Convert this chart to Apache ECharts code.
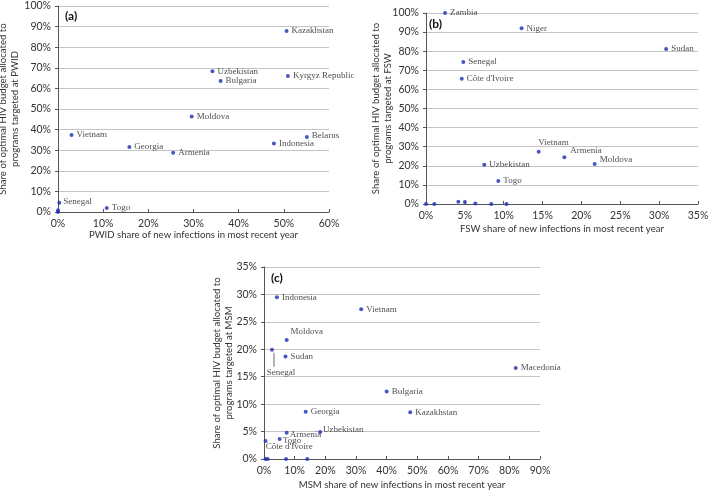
<!DOCTYPE html>
<html><head><meta charset="utf-8">
<script src="https://cdn.jsdelivr.net/npm/echarts@6/dist/echarts.min.js"></script>
<style>html,body{margin:0;padding:0;background:#fff}#c{width:709px;height:492px}</style>
</head><body><div id="c"></div>
<script>
// Panel (a): PWID
const namesA = ['Kazakhstan','Uzbekistan','Bulgaria','Kyrgyz Republic','Moldova','Vietnam','Georgia','Armenia','Indonesia','Belarus','Senegal','Togo','',''];
const xA = [50.6, 34.2, 36.0, 50.9, 29.6, 3.0, 15.8, 25.5, 47.8, 55.1, 0.3, 10.8, 0, 0];
const yA = [87.9, 68.3, 63.6, 66.0, 46.3, 37.4, 31.6, 28.8, 33.3, 36.4, 4.5, 1.9, 0, 0.8];
// Panel (b): FSW
const namesB = ['Zambia','Niger','Sudan','Senegal',"Côte d'Ivoire",'Vietnam','Armenia','Moldova','Uzbekistan','Togo','','','','','','',''];
const xB = [2.45, 12.3, 30.9, 4.8, 4.6, 14.5, 17.8, 21.7, 7.5, 9.3, 0, 1.07, 4.16, 5.0, 6.35, 8.4, 10.35];
const yB = [100, 92.0, 81.1, 74.3, 65.6, 27.4, 24.5, 21.0, 20.6, 12.1, 0, 0, 1.2, 1.0, 0.2, 0, 0];
// Panel (c): MSM
const namesC = ['Indonesia','Vietnam','Moldova','Senegal','Sudan','Macedonia','Bulgaria','Georgia','Kazakhstan','Uzbekistan','Armenia','Togo',"Côte d'Ivoire",'','','',''];
const xC = [4.2, 31.7, 7.4, 2.6, 7.0, 82.1, 40.0, 13.6, 47.7, 18.3, 7.4, 5.1, 0.5, 0.5, 1.2, 7.2, 14.1];
const yC = [29.5, 27.3, 21.7, 19.9, 18.7, 16.6, 12.3, 8.6, 8.5, 4.9, 4.8, 3.65, 3.3, 0, 0, 0, 0];
// Tick settings
const ticksA = {xMax: 60, xStep: 10, yMax: 100, yStep: 10};
const ticksB = {xMax: 35, xStep: 5, yMax: 100, yStep: 10};
const ticksC = {xMax: 90, xStep: 10, yMax: 35, yStep: 5};
const xNames = ['PWID share of new infections in most recent year','FSW share of new infections in most recent year','MSM share of new infections in most recent year'];
const yNames = ['Share of optimal HIV budget allocated to\nprograms targeted at PWID','Share of optimal HIV budget allocated to\nprograms targeted at FSW','Share of optimal HIV budget allocated to\nprograms targeted at MSM'];
const panelLabels = ['(a)','(b)','(c)'];

const AX_FONT = 'Lato, "Open Sans", sans-serif';
const LB_FONT = '"Liberation Serif", "DejaVu Serif", serif';
const DOT = '#1b2db0';

// label nudges (pixels) relative to default placement, per panel, by label text
const labelNudges = [
  {'Belarus': {dx:0, dy:-1}, 'Senegal': {dx:-1, dy:-1.5}},
  {'Vietnam': {dx:-5.5, dy:-9}, 'Armenia': {dx:1, dy:-6.3}, 'Moldova': {dx:0, dy:-4.7}},
  {'Moldova': {dx:-1.3, dy:-8.3}, 'Senegal': {dx:9, dy:0},
   "Côte d'Ivoire": {dx:-4.7, dy:6}, 'Armenia': {dx:-2, dy:1.7},
   'Uzbekistan': {dx:-2, dy:-2.7}, 'Togo': {dx:-1.7, dy:1.3}}
];

const grids = [
  {left: 58, top: 6, width: 271, height: 206, outerBoundsMode: 'none', containLabel: false},
  {left: 426, top: 13, width: 272, height: 191, outerBoundsMode: 'none', containLabel: false},
  {left: 264, top: 267, width: 276, height: 192, outerBoundsMode: 'none', containLabel: false}
];
const ticks = [ticksA, ticksB, ticksC];
const names = [namesA, namesB, namesC];
const xs = [xA, xB, xC];
const ys = [yA, yB, yC];
const yNameGap = [37, 32, 29];
const xNameGap = [18, 20, 21];

const xAxis = [], yAxis = [], series = [];
for (let i = 0; i < 3; i++) {
  xAxis.push({
    type: 'value', gridIndex: i, min: 0, max: ticks[i].xMax, interval: ticks[i].xStep,
    name: xNames[i], nameLocation: 'middle', nameGap: xNameGap[i], nameMoveOverlap: false,
    nameTextStyle: {fontFamily: AX_FONT, fontSize: 9.6, color: '#333'},
    axisLine: {show: true, onZero: false, lineStyle: {color: '#555', width: 1}},
    axisTick: {show: true, inside: true, length: 3, lineStyle: {color: '#555'}},
    axisLabel: {formatter: '{value}%', fontFamily: AX_FONT, fontSize: 10.5, color: '#333', margin: 6},
    splitLine: {show: false}
  });
  yAxis.push({
    type: 'value', gridIndex: i, min: 0, max: ticks[i].yMax, interval: ticks[i].yStep,
    name: yNames[i], nameLocation: 'middle', nameGap: yNameGap[i], nameRotate: 90, nameMoveOverlap: false,
    nameTextStyle: {fontFamily: AX_FONT, fontSize: 9.6, color: '#333', lineHeight: 12, align: 'center'},
    axisLine: {show: true, onZero: false, lineStyle: {color: '#555', width: 1}},
    axisTick: {show: true, length: 3, lineStyle: {color: '#555'}},
    axisLabel: {formatter: '{value}%', fontFamily: AX_FONT, fontSize: 10.5, color: '#333', margin: 7},
    splitLine: {show: true, lineStyle: {color: '#c4c4c4', width: 1}}
  });
  const data = xs[i].map((x, k) => {
    const nm = names[i][k];
    const d = {value: [x, ys[i][k]], name: nm};
    if (i === 2 && nm === 'Senegal') {
      // label below the point with a short leader line
      d.label = {
        position: 'bottom', distance: 1, align: 'center',
        formatter: '{bar|}{sp|}\n{t|Senegal}',
        rich: {
          bar: {width: 1, height: 14, backgroundColor: '#444'},
          sp: {width: 14, height: 14},
          t: {fontFamily: LB_FONT, fontSize: 9, color: '#222', lineHeight: 11}
        }
      };
    }
    return d;
  });
  const nudges = labelNudges[i];
  series.push({
    type: 'scatter', xAxisIndex: i, yAxisIndex: i, symbolSize: 4, z: 3,
    itemStyle: {color: DOT},
    data: data,
    label: {show: true, position: 'right', distance: 3, formatter: p => p.name,
      fontFamily: LB_FONT, fontSize: 9, color: '#222'},
    labelLayout: p => {
      const key = (p.text || '').indexOf('Senegal') >= 0 ? 'Senegal' : p.text;
      const n = nudges[key];
      return n ? {dx: n.dx, dy: n.dy, hideOverlap: false} : {hideOverlap: false};
    },
    emphasis: {disabled: true}
  });
}

const chart = echarts.init(document.getElementById('c'), null, {renderer: 'canvas'});
chart.setOption({
  animation: false,
  backgroundColor: '#fff',
  grid: grids,
  xAxis: xAxis,
  yAxis: yAxis,
  series: series,
  graphic: [
    {type: 'text', left: 65, top: 10, style: {text: panelLabels[0], font: 'bold 12px ' + AX_FONT, fill: '#111'}},
    {type: 'text', left: 429, top: 18, style: {text: panelLabels[1], font: 'bold 12px ' + AX_FONT, fill: '#111'}},
    {type: 'text', left: 271, top: 272, style: {text: panelLabels[2], font: 'bold 12px ' + AX_FONT, fill: '#111'}}
  ]
});
</script></body></html>
